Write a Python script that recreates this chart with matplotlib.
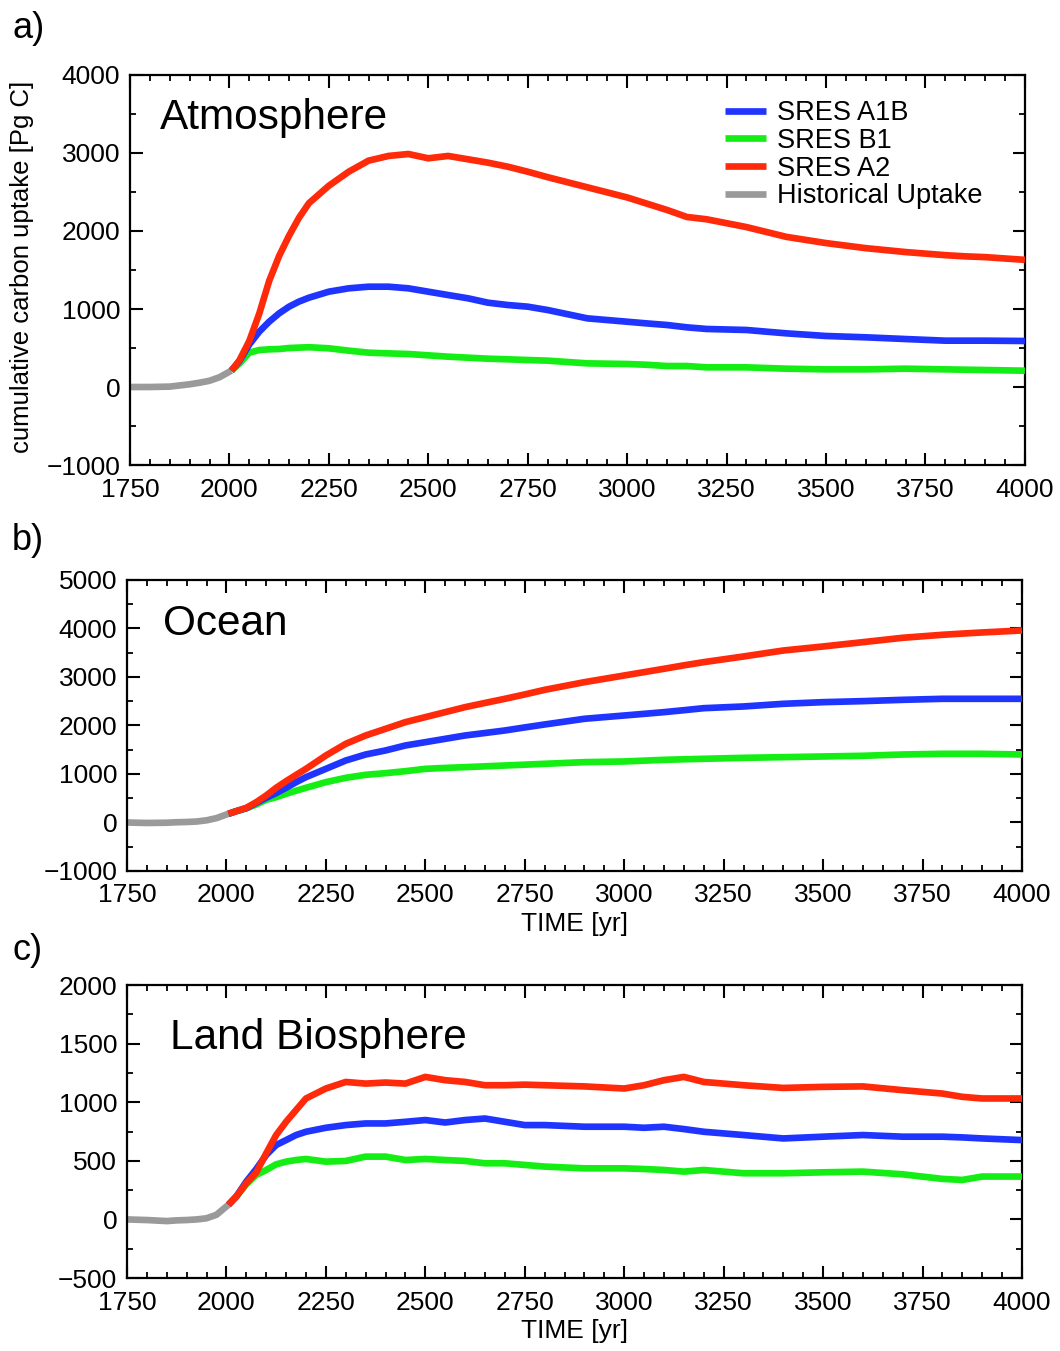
import matplotlib
matplotlib.use("Agg")
import matplotlib.pyplot as plt
from matplotlib.ticker import MultipleLocator

plt.rcParams['font.family'] = ['Liberation Sans', 'DejaVu Sans']
plt.rcParams['axes.unicode_minus'] = True

# historical period (grey)
hist_years = [1750, 1800, 1850, 1875, 1900, 1925, 1950, 1975, 2005]
hist_atm = [0, 0, 5, 20, 35, 55, 80, 125, 210]
hist_ocean = [0, -10, -5, 5, 10, 20, 45, 90, 179]
hist_land = [0, -5, -14, -8, -5, 0, 10, 40, 125]

# scenario years
years = [2005, 2025, 2050, 2075, 2100, 2125, 2150, 2175, 2200, 2250, 2300, 2350,
         2400, 2450, 2500, 2550, 2600, 2650, 2700, 2750, 2800, 2900, 3000, 3050,
         3100, 3150, 3200, 3300, 3400, 3500, 3600, 3700, 3800, 3850, 3900, 4000]

# a) atmosphere
atm_a1b = [210, 330, 545, 709, 837, 944, 1030, 1095, 1145, 1222, 1265, 1286,
           1286, 1265, 1222, 1179, 1137, 1081, 1051, 1030, 987, 880, 837, 815,
           795, 765, 744, 731, 688, 654, 637, 615, 594, 594, 594, 590]
atm_b1 = [210, 300, 440, 474, 483, 487, 500, 505, 510, 496, 466, 440,
          431, 423, 406, 389, 376, 363, 355, 346, 338, 303, 295, 285,
          269, 269, 252, 252, 235, 226, 226, 235, 226, 222, 218, 209]
atm_a2 = [210, 340, 590, 940, 1360, 1680, 1940, 2170, 2357, 2580, 2760, 2902,
          2962, 2987, 2932, 2962, 2919, 2876, 2824, 2760, 2690, 2560, 2430, 2350,
          2270, 2180, 2150, 2050, 1925, 1845, 1780, 1730, 1690, 1675, 1665, 1630]

# b) ocean
ocean_a1b = [179, 234, 295, 402, 509, 605, 715, 830, 935, 1106, 1278, 1402,
             1485, 1588, 1656, 1725, 1794, 1845, 1897, 1960, 2021, 2138, 2206, 2240,
             2275, 2315, 2357, 2392, 2447, 2481, 2502, 2529, 2550, 2550, 2550, 2550]
ocean_b1 = [179, 234, 290, 371, 467, 522, 591, 655, 715, 832, 921, 983,
            1017, 1058, 1106, 1125, 1141, 1158, 1175, 1192, 1210, 1244, 1258, 1275,
            1292, 1303, 1313, 1333, 1347, 1361, 1375, 1402, 1416, 1416, 1416, 1402]
ocean_a2 = [179, 234, 302, 419, 557, 715, 852, 980, 1106, 1381, 1622, 1794,
            1931, 2069, 2172, 2275, 2378, 2465, 2550, 2640, 2735, 2893, 3031, 3100,
            3169, 3240, 3306, 3423, 3546, 3629, 3718, 3808, 3870, 3895, 3918, 3959]

# c) land biosphere
land_a1b = [125, 196, 323, 430, 550, 635, 677, 720, 748, 782, 805, 819,
            819, 833, 848, 827, 848, 861, 833, 805, 805, 791, 791, 782,
            791, 771, 748, 720, 691, 706, 720, 706, 706, 700, 691, 677]
land_b1 = [125, 196, 300, 380, 422, 470, 493, 507, 516, 493, 499, 536,
           536, 507, 516, 507, 499, 479, 479, 465, 451, 436, 436, 430,
           422, 408, 422, 394, 394, 402, 408, 385, 346, 337, 366, 366]
land_a2 = [125, 196, 309, 400, 564, 720, 833, 933, 1032, 1117, 1173, 1159,
           1168, 1159, 1216, 1188, 1173, 1145, 1145, 1150, 1145, 1135, 1117, 1145,
           1188, 1216, 1173, 1145, 1122, 1131, 1135, 1103, 1074, 1046, 1032, 1032]

labels = ['SRES A1B', 'SRES B1', 'SRES A2', 'Historical Uptake']
colors = ['#1f35ff', '#14ee14', '#ff2a0a', '#9a9a9a']

fig = plt.figure(figsize=(10.6, 13.51), dpi=100)
ax_a = fig.add_axes([0.1226, 0.6558, 0.8443, 0.2887])
ax_b = fig.add_axes([0.1198, 0.3553, 0.8443, 0.2154])
ax_c = fig.add_axes([0.1198, 0.0540, 0.8443, 0.2169])

panels = [
    (ax_a, hist_atm, [atm_a1b, atm_b1, atm_a2], (-1000, 4000), 1000, 500, 'Atmosphere', 0.034, 0.89),
    (ax_b, hist_ocean, [ocean_a1b, ocean_b1, ocean_a2], (-1000, 5000), 1000, 500, 'Ocean', 0.04, 0.85),
    (ax_c, hist_land, [land_a1b, land_b1, land_a2], (-500, 2000), 500, 250, 'Land Biosphere', 0.048, 0.82),
]

lw = 4.8
for ax, hist, series, ylim, ymaj, ymin, name, tx, ty in panels:
    handles = []
    for vals, col, lab, z in zip(series, colors[:3], labels[:3], [4, 3, 5]):
        h, = ax.plot(years, vals, color=col, lw=lw, label=lab, zorder=z,
                     solid_capstyle='butt')
        handles.append(h)
    hh, = ax.plot(hist_years, hist, color=colors[3], lw=lw, label=labels[3],
                  zorder=2, solid_capstyle='butt')
    handles.append(hh)
    ax.set_xlim(1750, 4000)
    ax.set_ylim(*ylim)
    ax.xaxis.set_major_locator(MultipleLocator(250))
    ax.xaxis.set_minor_locator(MultipleLocator(50))
    ax.yaxis.set_major_locator(MultipleLocator(ymaj))
    ax.yaxis.set_minor_locator(MultipleLocator(ymin))
    ax.tick_params(which='both', direction='in', top=True, right=True)
    ax.tick_params(which='major', length=9, width=1.5, labelsize=19)
    ax.tick_params(axis='x', which='major', pad=9)
    ax.tick_params(axis='y', which='major', pad=7)
    ax.tick_params(which='minor', length=4.5, width=1.3)
    for sp in ax.spines.values():
        sp.set_linewidth(1.6)
    ax.text(tx, ty, name, transform=ax.transAxes,
            fontsize=30.5, va='center', ha='left')
    if ax is ax_a:
        ax.legend(handles=handles, loc='upper left', bbox_to_anchor=(0.665, 0.935),
                  frameon=False, fontsize=19.5, handlelength=1.5, handletextpad=0.4,
                  labelspacing=0.06, borderaxespad=0, borderpad=0)
    else:
        ax.set_xlabel('TIME [yr]', fontsize=19, labelpad=3)

fig.text(22 / 1060, 1 - 267 / 1351, 'cumulative carbon uptake [Pg C]',
         rotation=90, fontsize=18.5, ha='center', va='center')

for lab, yp in [('a)', 28), ('b)', 540), ('c)', 950)]:
    fig.text(12 / 1060, 1 - yp / 1351, lab, fontsize=26, ha='left', va='center')

fig.savefig('out.png', dpi=100)
